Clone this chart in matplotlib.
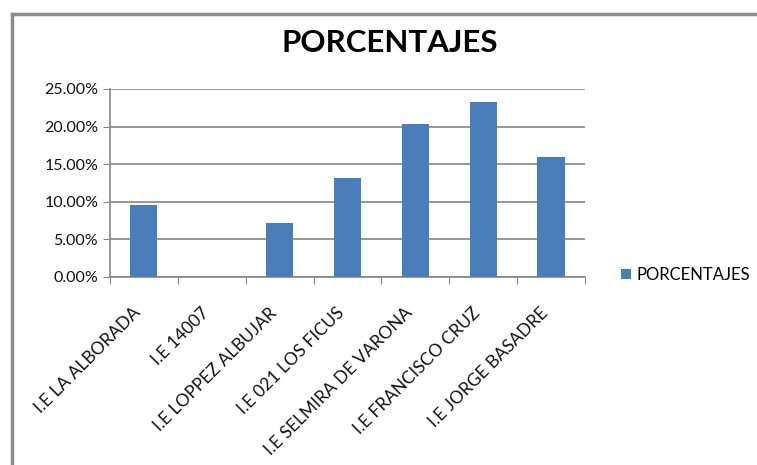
import matplotlib
matplotlib.use("Agg")
import matplotlib.pyplot as plt
import matplotlib.ticker as ticker
from matplotlib.lines import Line2D

plt.rcParams['font.family'] = ['Lato', 'DejaVu Sans']

escuelas = ['I.E LA ALBORADA', 'I.E 14007', 'I.E LOPPEZ ALBUJAR', 'I.E 021 LOS FICUS',
            'I.E SELMIRA DE VARONA', 'I.E FRANCISCO CRUZ', 'I.E JORGE BASADRE']
porcentajes = [0.0953, 0.0, 0.0718, 0.1312, 0.2039, 0.2323, 0.1591]
serie = 'PORCENTAJES'
color_barra = '#4a7ebb'

W, H = 757, 465
fig = plt.figure(figsize=(W / 100, H / 100), dpi=100)
ax = fig.add_axes([110 / W, 1 - 277 / H, (585 - 110) / W, (277 - 89) / H])

x = range(len(escuelas))
ax.bar(x, porcentajes, width=0.4, color=color_barra, label=serie, zorder=3)

ax.set_ylim(0, 0.25)
ax.set_xlim(-0.5, len(escuelas) - 0.5)
ax.yaxis.set_major_locator(ticker.MultipleLocator(0.05))
ax.yaxis.set_major_formatter(ticker.PercentFormatter(1.0, decimals=2))
ax.grid(axis='y', color='#868686', linewidth=1.2, zorder=0)

ax.set_xticks([i - 0.5 for i in range(len(escuelas) + 1)], minor=False)
ax.set_xticklabels([])
ax.set_xticks(list(x), minor=True)
ax.set_xticklabels(escuelas, minor=True, rotation=45, ha='right', va='bottom',
                   rotation_mode='anchor', fontsize=12.5, color='#111111')
ax.tick_params(axis='x', which='minor', length=0, pad=28)
ax.tick_params(axis='x', which='major', length=5, color='#868686', direction='out')
ax.tick_params(axis='y', length=5, color='#868686', labelsize=11.5, labelcolor='#111111')

for s in ['top', 'right']:
    ax.spines[s].set_visible(False)
for s in ['left', 'bottom']:
    ax.spines[s].set_color('#868686')
    ax.spines[s].set_linewidth(1.2)

fig.text(390 / W, 1 - 43 / H, 'PORCENTAJES', ha='center', va='center',
         fontsize=22.5, fontweight='bold', color='black')

fig.legend(loc='center left', bbox_to_anchor=(606 / W, 1 - 275 / H), frameon=False,
           fontsize=12, handlelength=0.6, handleheight=0.6, handletextpad=0.35)

# marco del grafico
fig.add_artist(Line2D([12 / W, 12 / W], [0, 1 - 14 / H], color='#8c8c8c', linewidth=2.5))
fig.add_artist(Line2D([12 / W, 1], [1 - 14 / H, 1 - 14 / H], color='#8c8c8c', linewidth=2.5))

fig.savefig('out.png', dpi=100)
